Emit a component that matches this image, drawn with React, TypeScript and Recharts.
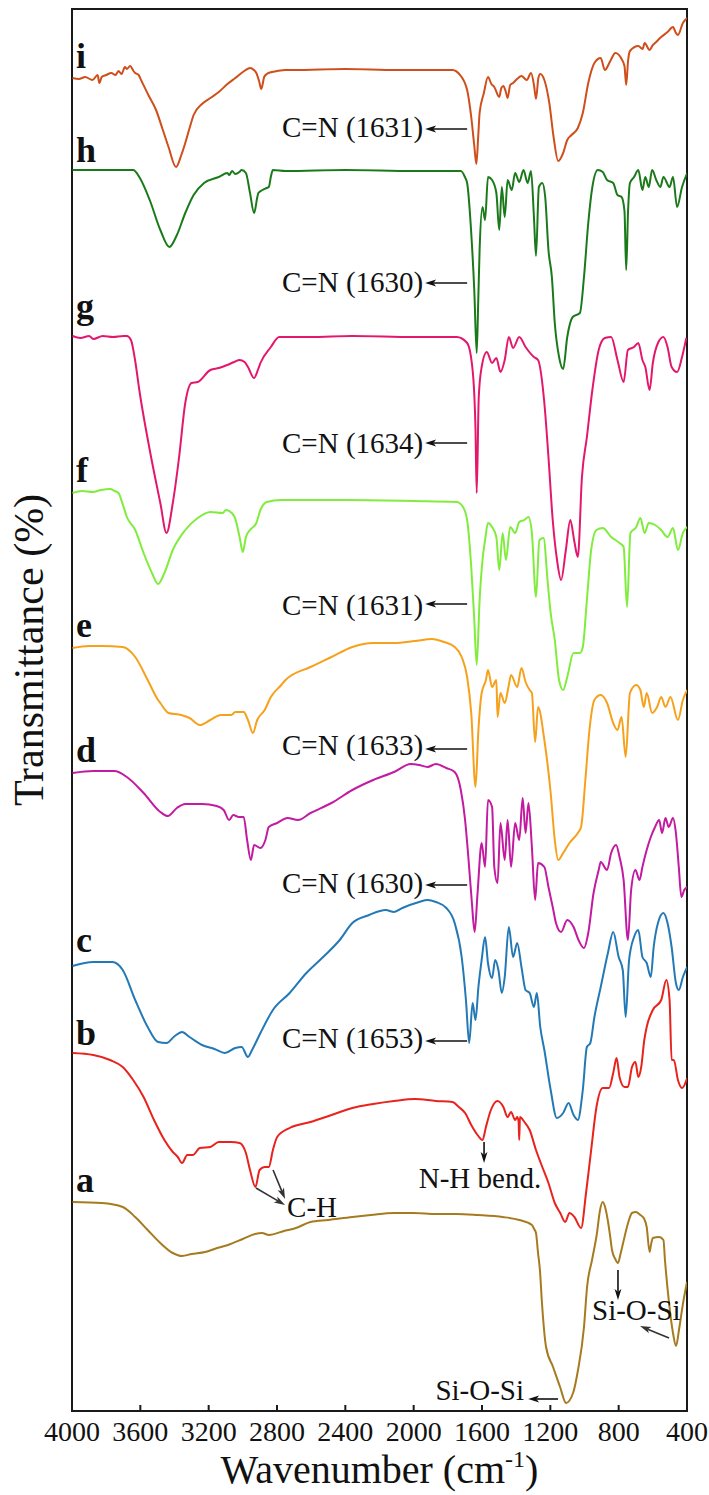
import React from "react";
import {
  LineChart,
  Line,
  XAxis,
  YAxis,
  Label,
  ReferenceArea,
  ReferenceDot,
  ReferenceLine,
} from "recharts";

type Pt = [number, number];

// [wavenumber cm-1, stacked transmittance (offset units, 0 = bottom axis)]
const specA: Pt[] = [
  [3997, 209], [3826, 208], [3703, 204], [3630, 194], [3557, 181], [3483, 168], [3410, 158],
  [3356, 155], [3300, 157], [3221, 159], [3150, 163], [3087, 166], [3000, 172], [2929, 177],
  [2888, 178], [2847, 176], [2760, 180], [2689, 183], [2604, 189], [2500, 191], [2359, 194],
  [2250, 196], [2115, 198], [2000, 198], [1870, 197], [1750, 197], [1626, 196], [1479, 194],
  [1382, 191], [1308, 186], [1295, 182], [1284, 178], [1272, 158], [1261, 141], [1249, 108],
  [1225, 64], [1184, 44], [1143, 24], [1108, 8], [1067, 18], [1038, 41], [1003, 84], [985, 124],
  [956, 151], [927, 178], [910, 200], [893, 209], [878, 203], [864, 191], [850, 175], [839, 161],
  [820, 152], [804, 148], [788, 158], [774, 168], [745, 188], [722, 198], [700, 199], [673, 196],
  [650, 192], [636, 184], [619, 159], [612, 165], [600, 173], [563, 174], [538, 171], [529, 151],
  [505, 108], [482, 78], [464, 65], [447, 81], [423, 108], [400, 129],
];

const specB: Pt[] = [
  [3997, 358], [3875, 356], [3777, 351], [3703, 344], [3642, 331], [3581, 314], [3520, 291],
  [3459, 271], [3410, 259], [3381, 254], [3356, 248], [3325, 256], [3293, 256], [3251, 263],
  [3190, 264], [3141, 269], [3068, 269], [3019, 268], [2982, 258], [2958, 241], [2926, 224],
  [2902, 241], [2872, 244], [2848, 244], [2824, 261], [2799, 274], [2726, 283], [2604, 289],
  [2481, 296], [2359, 303], [2237, 307], [2115, 310], [1993, 312], [1870, 310], [1773, 309],
  [1736, 304], [1699, 298], [1663, 286], [1626, 276], [1597, 271], [1577, 284], [1548, 301],
  [1509, 310], [1475, 304], [1450, 294], [1430, 299], [1406, 291], [1394, 294], [1386, 290],
  [1382, 271], [1378, 294], [1352, 289], [1321, 281], [1284, 261], [1247, 244], [1211, 228],
  [1174, 208], [1142, 198], [1113, 189], [1088, 198], [1059, 194], [1020, 183], [991, 218],
  [961, 261], [930, 304], [893, 323], [856, 323], [832, 338], [812, 353], [795, 334], [766, 324],
  [746, 324], [722, 344], [702, 349], [685, 334], [668, 344], [650, 371], [636, 384], [600, 401],
  [551, 411], [521, 431], [502, 411], [490, 351], [477, 351], [453, 331], [429, 323], [399, 333],
];

const specC: Pt[] = [
  [3997, 445], [3875, 449], [3764, 449], [3703, 441], [3630, 411], [3557, 384], [3496, 369],
  [3447, 368], [3398, 375], [3356, 379], [3312, 374], [3239, 366], [3166, 362], [3105, 358],
  [3044, 363], [3007, 364], [2970, 354], [2946, 361], [2897, 378], [2824, 401], [2726, 418],
  [2628, 438], [2530, 454], [2433, 471], [2359, 488], [2261, 496], [2164, 501], [2115, 499],
  [2066, 503], [1968, 509], [1919, 511], [1870, 509], [1809, 503], [1760, 488], [1719, 454],
  [1694, 411], [1675, 368], [1655, 408], [1638, 391], [1621, 424], [1602, 451], [1582, 474],
  [1565, 448], [1541, 433], [1523, 451], [1504, 441], [1484, 418], [1467, 434], [1443, 484],
  [1418, 454], [1394, 468], [1369, 444], [1345, 421], [1321, 418], [1296, 404], [1279, 418],
  [1259, 384], [1235, 361], [1198, 321], [1162, 293], [1125, 298], [1093, 308], [1064, 296],
  [1039, 291], [1010, 321], [986, 364], [966, 368], [942, 394], [905, 424], [863, 458],
  [832, 479], [800, 454], [776, 441], [759, 394], [739, 451], [710, 474], [685, 481], [661, 454],
  [636, 448], [612, 434], [595, 464], [570, 488], [538, 498], [514, 488], [490, 464], [465, 428],
  [448, 421], [424, 434], [399, 444],
];

const specD: Pt[] = [
  [3997, 638], [3875, 640], [3752, 640], [3679, 634], [3581, 618], [3483, 599], [3439, 595],
  [3386, 603], [3337, 607], [3239, 607], [3153, 605], [3112, 601], [3080, 591], [3056, 596],
  [3024, 594], [2995, 594], [2975, 571], [2953, 551], [2934, 566], [2897, 563], [2868, 571],
  [2848, 584], [2799, 588], [2738, 593], [2677, 591], [2604, 598], [2481, 608], [2359, 621],
  [2237, 631], [2115, 639], [2017, 647], [1968, 646], [1919, 644], [1870, 647], [1809, 643],
  [1760, 639], [1724, 621], [1699, 591], [1680, 554], [1660, 510], [1643, 479], [1626, 518],
  [1602, 568], [1582, 544], [1565, 611], [1541, 604], [1528, 544], [1509, 528], [1492, 588],
  [1467, 551], [1450, 591], [1430, 544], [1406, 588], [1382, 571], [1362, 613], [1345, 578],
  [1328, 608], [1308, 564], [1289, 511], [1272, 548], [1235, 544], [1211, 524], [1186, 504],
  [1167, 488], [1137, 479], [1101, 491], [1064, 484], [1035, 471], [1003, 463], [978, 478],
  [947, 518], [917, 541], [905, 549], [868, 541], [844, 558], [815, 566], [795, 554], [771, 531],
  [746, 471], [727, 521], [702, 541], [678, 531], [661, 544], [636, 561], [612, 574], [587, 584],
  [563, 591], [546, 578], [526, 593], [507, 584], [482, 593], [465, 578], [448, 544], [433, 514],
  [416, 521], [399, 524],
];

const specE: Pt[] = [
  [3997, 763], [3900, 765], [3826, 765], [3703, 764], [3630, 754], [3557, 731], [3496, 711],
  [3483, 708], [3435, 698], [3361, 696], [3312, 693], [3251, 686], [3190, 691], [3129, 696],
  [3068, 696], [3044, 699], [2995, 699], [2970, 691], [2941, 678], [2916, 691], [2872, 701],
  [2836, 714], [2775, 726], [2750, 731], [2604, 744], [2481, 754], [2359, 764], [2237, 768],
  [2115, 768], [1993, 770], [1895, 772], [1822, 769], [1760, 764], [1719, 754], [1687, 734],
  [1663, 698], [1638, 624], [1621, 681], [1602, 718], [1577, 731], [1565, 741], [1541, 724],
  [1516, 731], [1509, 694], [1492, 718], [1467, 708], [1443, 726], [1430, 736], [1394, 724],
  [1369, 743], [1345, 729], [1321, 721], [1308, 718], [1289, 669], [1272, 704], [1235, 671],
  [1198, 618], [1174, 571], [1154, 551], [1125, 558], [1088, 568], [1039, 578], [1020, 584],
  [995, 631], [971, 681], [942, 711], [905, 716], [868, 708], [832, 688], [807, 681], [783, 694],
  [759, 654], [734, 718], [697, 726], [673, 721], [653, 704], [636, 718], [604, 698], [575, 704],
  [551, 714], [526, 704], [497, 714], [453, 691], [424, 711], [399, 721],
];

const specF: Pt[] = [
  [3997, 918], [3940, 920], [3880, 919], [3830, 921], [3777, 922], [3750, 920], [3728, 918],
  [3700, 905], [3679, 894], [3630, 881], [3581, 858], [3532, 838], [3496, 827], [3459, 838],
  [3410, 861], [3337, 881], [3264, 893], [3190, 899], [3117, 898], [3100, 901], [3080, 900],
  [3048, 894], [3019, 874], [3000, 859], [2982, 874], [2958, 881], [2921, 888], [2897, 901],
  [2860, 909], [2775, 911], [2400, 911], [2000, 910], [1748, 909], [1711, 904], [1687, 891],
  [1663, 844], [1646, 794], [1631, 746], [1614, 811], [1597, 851], [1582, 871], [1565, 888],
  [1541, 884], [1516, 874], [1499, 841], [1479, 878], [1460, 851], [1435, 884], [1406, 878],
  [1382, 889], [1352, 891], [1328, 894], [1308, 878], [1284, 814], [1264, 871], [1240, 873],
  [1215, 828], [1198, 798], [1174, 771], [1149, 731], [1125, 721], [1101, 734], [1064, 758],
  [1027, 758], [1010, 764], [986, 811], [961, 861], [930, 881], [893, 883], [844, 874],
  [795, 868], [771, 864], [751, 804], [731, 878], [697, 884], [673, 893], [648, 878], [624, 888],
  [587, 886], [551, 881], [514, 874], [482, 883], [453, 861], [424, 878], [399, 884],
];

const specG: Pt[] = [
  [3997, 1075], [3950, 1073], [3900, 1075], [3875, 1072], [3820, 1075], [3760, 1074],
  [3700, 1075], [3679, 1075], [3655, 1071], [3630, 1050], [3606, 1021], [3545, 961], [3483, 908],
  [3447, 878], [3410, 908], [3373, 954], [3337, 1008], [3300, 1028], [3264, 1029], [3190, 1041],
  [3140, 1043], [3092, 1046], [3050, 1049], [3019, 1051], [2990, 1049], [2970, 1044],
  [2934, 1033], [2910, 1042], [2897, 1048], [2836, 1064], [2787, 1074], [2604, 1074],
  [2359, 1075], [2000, 1074], [1748, 1074], [1687, 1068], [1655, 1041], [1638, 981], [1631, 918],
  [1619, 1014], [1602, 1044], [1572, 1059], [1541, 1048], [1516, 1053], [1492, 1039],
  [1467, 1051], [1443, 1074], [1418, 1063], [1382, 1074], [1345, 1064], [1296, 1054],
  [1272, 1051], [1235, 1008], [1211, 954], [1186, 891], [1160, 850], [1137, 831], [1110, 860],
  [1083, 891], [1060, 870], [1039, 854], [1015, 934], [986, 974], [954, 1021], [917, 1061],
  [881, 1073], [844, 1074], [807, 1051], [771, 1029], [746, 1061], [710, 1064], [685, 1068],
  [661, 1051], [644, 1044], [619, 1021], [600, 1048], [570, 1068], [538, 1074], [514, 1064],
  [490, 1044], [458, 1039], [429, 1054], [404, 1073],
];

const specH: Pt[] = [
  [3997, 1241], [3800, 1241], [3700, 1241], [3642, 1241], [3606, 1234], [3545, 1211],
  [3483, 1181], [3430, 1164], [3386, 1176], [3337, 1198], [3288, 1216], [3227, 1228],
  [3141, 1234], [3090, 1238], [3080, 1236], [3063, 1240], [3044, 1237], [3020, 1239],
  [3007, 1241], [2982, 1238], [2958, 1218], [2934, 1198], [2915, 1214], [2909, 1218],
  [2885, 1221], [2860, 1223], [2848, 1224], [2835, 1235], [2824, 1241], [2750, 1240],
  [2400, 1241], [2000, 1240], [1724, 1240], [1700, 1234], [1687, 1228], [1663, 1178],
  [1645, 1120], [1631, 1058], [1622, 1110], [1614, 1161], [1597, 1204], [1582, 1191],
  [1565, 1234], [1541, 1231], [1516, 1218], [1499, 1181], [1484, 1224], [1467, 1194],
  [1450, 1231], [1426, 1221], [1406, 1238], [1382, 1229], [1357, 1241], [1333, 1228],
  [1313, 1240], [1296, 1194], [1284, 1155], [1267, 1224], [1247, 1228], [1230, 1214],
  [1211, 1161], [1191, 1134], [1174, 1088], [1150, 1055], [1125, 1042], [1101, 1074],
  [1069, 1094], [1027, 1098], [1003, 1134], [978, 1188], [954, 1224], [922, 1241], [893, 1239],
  [868, 1231], [832, 1228], [807, 1216], [783, 1214], [766, 1200], [756, 1141], [745, 1200],
  [734, 1228], [710, 1234], [685, 1241], [661, 1221], [644, 1234], [624, 1224], [604, 1241],
  [580, 1231], [556, 1224], [538, 1234], [502, 1224], [482, 1234], [458, 1204], [429, 1224],
  [399, 1238],
];

const specI: Pt[] = [
  [3997, 1333], [3960, 1332], [3923, 1334], [3880, 1331], [3850, 1336], [3840, 1328],
  [3826, 1334], [3800, 1336], [3770, 1338], [3745, 1336], [3728, 1340], [3710, 1337],
  [3690, 1344], [3679, 1342], [3660, 1345], [3640, 1340], [3630, 1338], [3610, 1336],
  [3593, 1330], [3550, 1315], [3508, 1301], [3470, 1282], [3435, 1264], [3391, 1244],
  [3360, 1256], [3337, 1268], [3310, 1284], [3288, 1296], [3239, 1307], [3190, 1313],
  [3141, 1319], [3090, 1327], [3044, 1333], [3000, 1339], [2958, 1343], [2935, 1341],
  [2921, 1338], [2905, 1330], [2892, 1322], [2875, 1334], [2860, 1337], [2830, 1339],
  [2799, 1340], [2750, 1341], [2701, 1341], [2400, 1342], [2100, 1341], [1900, 1341],
  [1773, 1341], [1724, 1335], [1700, 1328], [1687, 1321], [1663, 1294], [1645, 1265],
  [1633, 1247], [1622, 1275], [1614, 1298], [1589, 1318], [1565, 1334], [1545, 1327],
  [1528, 1324], [1499, 1314], [1487, 1323], [1475, 1325], [1462, 1320], [1450, 1313],
  [1435, 1326], [1418, 1328], [1395, 1332], [1369, 1335], [1338, 1331], [1313, 1338],
  [1295, 1325], [1284, 1312], [1270, 1333], [1259, 1337], [1235, 1331], [1206, 1308],
  [1181, 1274], [1154, 1250], [1125, 1258], [1101, 1271], [1076, 1276], [1039, 1283],
  [1010, 1298], [978, 1328], [942, 1348], [905, 1353], [881, 1341], [849, 1350], [819, 1358],
  [783, 1352], [766, 1345], [756, 1326], [745, 1350], [734, 1360], [685, 1365], [660, 1362],
  [648, 1368], [619, 1361], [600, 1366], [587, 1368], [551, 1374], [514, 1379], [482, 1384],
  [465, 1378], [453, 1376], [424, 1388], [399, 1393],
];

const SERIES = [
  { name: "a", color: "#a67b20", points: specA },
  { name: "b", color: "#e8231d", points: specB },
  { name: "c", color: "#2279b5", points: specC },
  { name: "d", color: "#c21aa0", points: specD },
  { name: "e", color: "#f6a11c", points: specE },
  { name: "f", color: "#80ec3e", points: specF },
  { name: "g", color: "#e3186c", points: specG },
  { name: "h", color: "#1a7a1a", points: specH },
  { name: "i", color: "#cf4f1c", points: specI },
];

const X_TICKS = [4000, 3600, 3200, 2800, 2400, 2000, 1600, 1200, 800, 400];

// trace letter, baseline level
const LETTERS: [string, number][] = [
  ["i", 1343], ["h", 1249], ["g", 1093], ["f", 929], ["e", 774],
  ["d", 649], ["c", 459], ["b", 366], ["a", 219],
];

// C=N band labels: text, baseline level, arrow level
const CN_LABELS: [string, number, number][] = [
  ["C=N (1631)", 1274, 1282],
  ["C=N (1630)", 1119, 1128],
  ["C=N (1634)", 958, 968],
  ["C=N (1631)", 796, 807],
  ["C=N (1633)", 656, 662],
  ["C=N (1630)", 518, 526],
  ["C=N (1653)", 363, 370],
];

const SERIF = "'Liberation Serif', 'Times New Roman', serif";
const INK = "#111";

function textAt(text: string, anchor: "start" | "middle" | "end", opts: any = {}) {
  return (p: any) => (
    <text
      x={p.cx}
      y={p.cy}
      textAnchor={anchor}
      fontFamily={SERIF}
      fontSize={opts.size ?? 29}
      fontWeight={opts.weight ?? "normal"}
      fill={INK}
    >
      {text}
    </text>
  );
}

function arrow(color: string) {
  return (p: any) => {
    const { x1, y1, x2, y2 } = p;
    const a = Math.atan2(y2 - y1, x2 - x1);
    const c = Math.cos(a);
    const s = Math.sin(a);
    const len = 11;
    const half = 3.4;
    const bx = x2 - len * c;
    const by = y2 - len * s;
    const nx = x2 - len * 0.75 * c;
    const ny = y2 - len * 0.75 * s;
    const pts = [
      [x2, y2],
      [bx + half * s, by - half * c],
      [nx, ny],
      [bx - half * s, by + half * c],
    ]
      .map((q) => q.join(","))
      .join(" ");
    return (
      <g>
        <line x1={x1} y1={y1} x2={nx} y2={ny} stroke={color} strokeWidth={1.6} />
        <polygon points={pts} fill={color} />
      </g>
    );
  };
}

function seg(x1: number, y1: number, x2: number, y2: number) {
  return [
    { x: x1, y: y1 },
    { x: x2, y: y2 },
  ] as any;
}

export default function App() {
  return (
    <div style={{ position: "absolute", left: 0, top: 0, background: "#fff" }}>
      <LineChart
        width={709}
        height={1495}
        margin={{ top: 9, right: 22, bottom: 0, left: 32 }}
      >
        <XAxis
          dataKey="x"
          type="number"
          domain={[400, 4000]}
          reversed
          ticks={X_TICKS}
          allowDataOverflow
          height={84}
          axisLine={{ stroke: "#1a1a1a", strokeWidth: 2 }}
          tickLine={{ stroke: "#1a1a1a", strokeWidth: 2 }}
          tickSize={-6}
          tickMargin={16}
          tick={{ fontFamily: SERIF, fontSize: 28, fill: INK }}
        >
          <Label
            content={(p: any) => {
              const vb = p.viewBox;
              return (
                <text
                  x={vb.x + vb.width / 2}
                  y={vb.y + 72}
                  textAnchor="middle"
                  fontFamily={SERIF}
                  fontSize={40}
                  fill={INK}
                >
                  Wavenumber (cm
                  <tspan fontSize={24} dy={-16}>
                    -1
                  </tspan>
                  <tspan dy={16}>)</tspan>
                </text>
              );
            }}
          />
        </XAxis>
        <YAxis
          type="number"
          domain={[0, 1402]}
          width={40}
          tick={false}
          tickLine={false}
          axisLine={false}
        >
          <Label
            content={(p: any) => {
              const vb = p.viewBox;
              const x = vb.x + 11;
              const y = vb.y + vb.height / 2 - 60;
              return (
                <text
                  x={x}
                  y={y}
                  transform={`rotate(-90, ${x}, ${y})`}
                  textAnchor="middle"
                  fontFamily={SERIF}
                  fontSize={42}
                  fill={INK}
                >
                  Transmittance (%)
                </text>
              );
            }}
          />
        </YAxis>

        <ReferenceArea
          x1={4000}
          x2={400}
          y1={0}
          y2={1402}
          fill="none"
          stroke="#1a1a1a"
          strokeWidth={2}
          fillOpacity={0}
        />

        {SERIES.map((s) => (
          <Line
            key={s.name}
            data={s.points.map(([x, y]) => ({ x, y }))}
            dataKey="y"
            name={s.name}
            type="monotoneX"
            stroke={s.color}
            strokeWidth={2}
            dot={false}
            activeDot={false}
            isAnimationActive={false}
          />
        ))}

        {LETTERS.map(([t, y]) => (
          <ReferenceDot
            key={"l" + t}
            x={3977}
            y={y}
            shape={textAt(t, "start", { size: 36, weight: "bold" })}
          />
        ))}

        {CN_LABELS.map(([t, y], i) => (
          <ReferenceDot key={"cn" + i} x={1944} y={y} shape={textAt(t, "end")} />
        ))}
        {CN_LABELS.map(([, , ay], i) => (
          <ReferenceLine
            key={"cna" + i}
            segment={seg(1687, ay, 1933, ay)}
            shape={arrow("#111")}
          />
        ))}

        <ReferenceDot x={1612} y={223} shape={textAt("N-H bend.", "middle")} />
        <ReferenceLine segment={seg(1588, 269, 1588, 248)} shape={arrow("#111")} />

        <ReferenceDot x={2741} y={194} shape={textAt("C-H", "start")} />
        <ReferenceLine segment={seg(2923, 223, 2753, 206)} shape={arrow("#333")} />
        <ReferenceLine segment={seg(2823, 241, 2753, 212)} shape={arrow("#333")} />

        <ReferenceDot x={956} y={91} shape={textAt("Si-O-Si", "start")} />
        <ReferenceLine segment={seg(804, 141, 804, 111)} shape={arrow("#111")} />
        <ReferenceLine segment={seg(505, 73, 675, 85)} shape={arrow("#333")} />

        <ReferenceDot x={1354} y={11} shape={textAt("Si-O-Si", "end")} />
        <ReferenceLine segment={seg(1155, 12, 1330, 12)} shape={arrow("#111")} />
      </LineChart>
    </div>
  );
}
